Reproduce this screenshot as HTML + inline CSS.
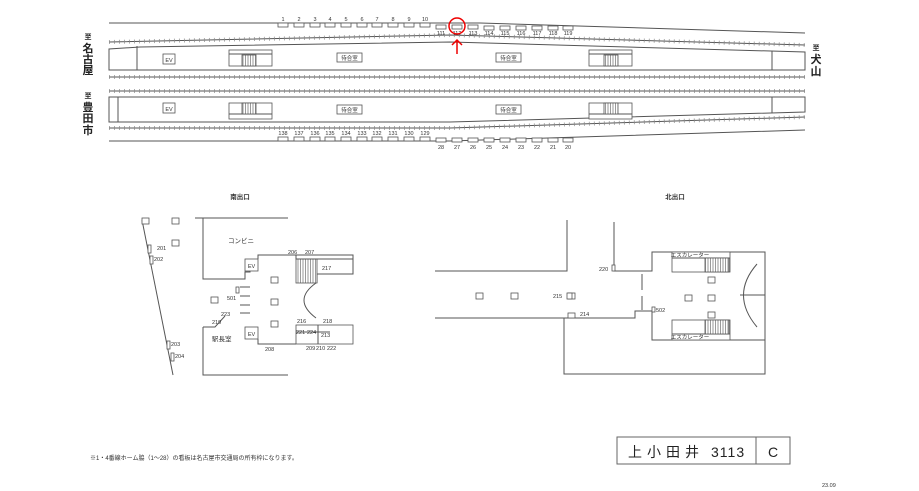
<!DOCTYPE html>
<html><head><meta charset="utf-8"><style>
html,body{margin:0;padding:0;background:#fff;}
svg{display:block;font-family:"Liberation Sans","Noto Sans CJK JP",sans-serif;}
.l{fill:none;stroke:#555;stroke-width:1}
.t{fill:none;stroke:#888;stroke-width:4;stroke-dasharray:0.7 4.3}
.b{fill:#fff;stroke:#555;stroke-width:0.8}
.h{fill:url(#hatch);stroke:#555;stroke-width:0.8}
.n{font-size:5.5px;fill:#333;text-anchor:middle}
.s{font-size:6.5px;fill:#333}
</style></head><body>
<svg width="919" height="491" viewBox="0 0 919 491" xmlns="http://www.w3.org/2000/svg">
<defs><pattern id="hatch" width="2.5" height="10" patternUnits="userSpaceOnUse"><rect width="2.5" height="10" fill="#fff"/><line x1="0.5" y1="0" x2="0.5" y2="10" stroke="#555" stroke-width="0.6"/></pattern></defs>
<!-- top platform area -->
<polyline class="l" points="109,23 480,23 805,33"/>
<polyline class="l" points="109,42 450,35 805,45"/>
<polyline class="t" points="109,42 450,35 805,45"/>
<polygon class="l" points="109,70 109,49 140,47 450,42 805,52 805,70"/>
<line class="l" x1="137" y1="46" x2="137" y2="70"/>
<line class="l" x1="772" y1="51" x2="772" y2="70"/>
<line class="l" x1="109" y1="77" x2="805" y2="77"/><line class="t" x1="109" y1="77" x2="805" y2="77"/>
<line class="l" x1="109" y1="91" x2="805" y2="91"/><line class="t" x1="109" y1="91" x2="805" y2="91"/>
<polygon class="l" points="109,97 805,97 805,112 450,122 109,122"/>
<line class="l" x1="118" y1="97" x2="118" y2="122"/>
<line class="l" x1="772" y1="97" x2="772" y2="113"/>
<polyline class="l" points="109,128 450,128 805,117"/><polyline class="t" points="109,128 450,128 805,117"/>
<polyline class="l" points="109,141 450,141 805,130"/>
<!-- platform icons -->
<rect class="b" x="163" y="54" width="12" height="10"/><text x="169" y="62" class="n" font-size="6">EV</text>
<rect class="b" x="163" y="103" width="12" height="10"/><text x="169" y="111" class="n" font-size="6">EV</text>
<rect class="b" x="229" y="50" width="43" height="16"/><line class="l" x1="229" y1="54" x2="272" y2="54"/><rect class="h" x="242" y="55" width="14" height="11"/>
<rect class="b" x="229" y="103" width="43" height="16"/><line class="l" x1="229" y1="114" x2="272" y2="114"/><rect class="h" x="242" y="103" width="14" height="11"/>
<rect class="b" x="589" y="50" width="43" height="16"/><line class="l" x1="589" y1="54" x2="632" y2="54"/><rect class="h" x="604" y="55" width="14" height="11"/>
<rect class="b" x="589" y="103" width="43" height="16"/><line class="l" x1="589" y1="114" x2="632" y2="114"/><rect class="h" x="604" y="103" width="14" height="11"/>
<rect class="b" x="337" y="53" width="25" height="9"/><text x="349.5" y="60" class="n">待合室</text>
<rect class="b" x="496" y="53" width="25" height="9"/><text x="508.5" y="60" class="n">待合室</text>
<rect class="b" x="337" y="105" width="25" height="9"/><text x="349.5" y="112" class="n">待合室</text>
<rect class="b" x="496" y="105" width="25" height="9"/><text x="508.5" y="112" class="n">待合室</text>
<!-- direction labels -->
<g font-size="11" font-weight="bold" fill="#222" text-anchor="middle">
<text x="88" y="39" font-size="7">至</text><text x="88" y="52">名</text><text x="88" y="63">古</text><text x="88" y="74">屋</text>
<text x="88" y="98" font-size="7">至</text><text x="88" y="111">豊</text><text x="88" y="122">田</text><text x="88" y="134">市</text>
<text x="816" y="50" font-size="7">至</text><text x="816" y="63">犬</text><text x="816" y="75">山</text>
</g>
<g>
<rect class="b" x="278" y="23" width="10" height="4"/><rect class="b" x="294" y="23" width="10" height="4"/><rect class="b" x="310" y="23" width="10" height="4"/><rect class="b" x="325" y="23" width="10" height="4"/><rect class="b" x="341" y="23" width="10" height="4"/><rect class="b" x="357" y="23" width="10" height="4"/><rect class="b" x="372" y="23" width="10" height="4"/><rect class="b" x="388" y="23" width="10" height="4"/><rect class="b" x="404" y="23" width="10" height="4"/><rect class="b" x="420" y="23" width="10" height="4"/>
<text class="n" x="283" y="21">1</text><text class="n" x="299" y="21">2</text><text class="n" x="315" y="21">3</text><text class="n" x="330" y="21">4</text><text class="n" x="346" y="21">5</text><text class="n" x="362" y="21">6</text><text class="n" x="377" y="21">7</text><text class="n" x="393" y="21">8</text><text class="n" x="409" y="21">9</text><text class="n" x="425" y="21">10</text>
<rect class="b" x="436" y="25" width="10" height="4"/><rect class="b" x="452" y="25" width="10" height="4"/><rect class="b" x="468" y="25" width="10" height="4"/><rect class="b" x="484" y="26" width="10" height="4"/><rect class="b" x="500" y="26" width="10" height="4"/><rect class="b" x="516" y="26" width="10" height="4"/><rect class="b" x="532" y="26" width="10" height="4"/><rect class="b" x="548" y="26" width="10" height="4"/><rect class="b" x="563" y="26" width="10" height="4"/>
<text class="n" x="441" y="35">111</text><text class="n" x="457" y="35">112</text><text class="n" x="473" y="35">113</text><text class="n" x="489" y="35">114</text><text class="n" x="505" y="35">115</text><text class="n" x="521" y="35">116</text><text class="n" x="537" y="35">117</text><text class="n" x="553" y="35">118</text><text class="n" x="568" y="35">119</text>
<circle cx="457" cy="26" r="8" fill="none" stroke="#e00" stroke-width="1.5"/>
<line x1="457" y1="54" x2="457" y2="40" stroke="#e00" stroke-width="1.5"/>
<polyline points="452,45 457,40 462,45" fill="none" stroke="#e00" stroke-width="1.5"/>
<rect class="b" x="278" y="137" width="10" height="4"/><rect class="b" x="294" y="137" width="10" height="4"/><rect class="b" x="310" y="137" width="10" height="4"/><rect class="b" x="325" y="137" width="10" height="4"/><rect class="b" x="341" y="137" width="10" height="4"/><rect class="b" x="357" y="137" width="10" height="4"/><rect class="b" x="372" y="137" width="10" height="4"/><rect class="b" x="388" y="137" width="10" height="4"/><rect class="b" x="404" y="137" width="10" height="4"/><rect class="b" x="420" y="137" width="10" height="4"/>
<text class="n" x="283" y="135">138</text><text class="n" x="299" y="135">137</text><text class="n" x="315" y="135">136</text><text class="n" x="330" y="135">135</text><text class="n" x="346" y="135">134</text><text class="n" x="362" y="135">133</text><text class="n" x="377" y="135">132</text><text class="n" x="393" y="135">131</text><text class="n" x="409" y="135">130</text><text class="n" x="425" y="135">129</text>
<rect class="b" x="436" y="138" width="10" height="4"/><rect class="b" x="452" y="138" width="10" height="4"/><rect class="b" x="468" y="138" width="10" height="4"/><rect class="b" x="484" y="138" width="10" height="4"/><rect class="b" x="500" y="138" width="10" height="4"/><rect class="b" x="516" y="138" width="10" height="4"/><rect class="b" x="532" y="138" width="10" height="4"/><rect class="b" x="548" y="138" width="10" height="4"/><rect class="b" x="563" y="138" width="10" height="4"/>
<text class="n" x="441" y="149">28</text><text class="n" x="457" y="149">27</text><text class="n" x="473" y="149">26</text><text class="n" x="489" y="149">25</text><text class="n" x="505" y="149">24</text><text class="n" x="521" y="149">23</text><text class="n" x="537" y="149">22</text><text class="n" x="553" y="149">21</text><text class="n" x="568" y="149">20</text>
</g>
<!-- South exit -->
<text x="240" y="199" class="s" text-anchor="middle" font-weight="bold">南出口</text>
<line class="l" x1="142" y1="220" x2="173" y2="375"/>
<rect class="b" x="142" y="218" width="7" height="6"/><rect class="b" x="172" y="218" width="7" height="6"/><rect class="b" x="172" y="240" width="7" height="6"/>
<rect class="b" x="148" y="245" width="3" height="8"/><text class="n" x="157" y="250" style="text-anchor:start">201</text>
<rect class="b" x="150" y="256" width="3" height="8"/><text class="n" x="154" y="261" style="text-anchor:start">202</text>
<rect class="b" x="167" y="341" width="3" height="8"/><text class="n" x="171" y="346" style="text-anchor:start">203</text>
<rect class="b" x="171" y="353" width="3" height="8"/><text class="n" x="175" y="358" style="text-anchor:start">204</text>
<polyline class="l" points="195,218 288,218"/>
<polyline class="l" points="203,218 203,279 245,279 245,272 250,272 250,264"/>
<rect class="b" x="245" y="259" width="13" height="12"/><text class="n" x="251.5" y="268" font-size="7">EV</text>
<rect class="b" x="245" y="327" width="13" height="12"/><text class="n" x="251.5" y="336" font-size="7">EV</text>
<polyline class="l" points="258,259 258,255 353,255 353,274 317,274 317,283"/>
<rect class="h" x="296" y="259" width="21" height="24"/>
<rect class="l" x="296" y="255" width="57" height="4"/>
<path class="l" d="M316,283 Q292,300 316,318"/>
<rect class="b" x="296" y="325" width="57" height="19"/>
<line class="l" x1="296" y1="332" x2="330" y2="332"/><line class="l" x1="318" y1="325" x2="318" y2="344"/>
<polyline class="l" points="258,339 258,344 296,344"/>
<polyline class="l" points="203,327 215,327 225,316"/>
<polyline class="l" points="203,327 203,375 288,375"/>
<rect class="b" x="271" y="277" width="7" height="6"/><rect class="b" x="271" y="299" width="7" height="6"/><rect class="b" x="271" y="321" width="7" height="6"/>
<rect class="b" x="211" y="297" width="7" height="6"/>
<line class="l" x1="240" y1="287" x2="250" y2="287"/><line class="l" x1="240" y1="296" x2="250" y2="296"/><line class="l" x1="240" y1="305" x2="250" y2="305"/><line class="l" x1="240" y1="313" x2="250" y2="313"/>
<rect class="b" x="236" y="287" width="3" height="6"/>
<text class="s" x="228" y="243" font-size="8">コンビニ</text>
<text class="s" x="212" y="341" font-size="8">駅長室</text>
<text x="227" y="300" class="n" style="text-anchor:start">501</text>
<text x="288" y="254" class="n" style="text-anchor:start">206</text>
<text x="305" y="254" class="n" style="text-anchor:start">207</text>
<text x="322" y="270" class="n" style="text-anchor:start">217</text>
<text x="297" y="323" class="n" style="text-anchor:start">216</text>
<text x="323" y="323" class="n" style="text-anchor:start">218</text>
<text x="212" y="324" class="n" style="text-anchor:start">219</text>
<text x="221" y="316" class="n" style="text-anchor:start">223</text>
<text x="265" y="351" class="n" style="text-anchor:start">208</text>
<text x="296" y="334" class="n" style="text-anchor:start">221</text>
<text x="307" y="334" class="n" style="text-anchor:start">224</text>
<text x="321" y="337" class="n" style="text-anchor:start">213</text>
<text x="306" y="350" class="n" style="text-anchor:start">209</text>
<text x="316" y="350" class="n" style="text-anchor:start">210</text>
<text x="327" y="350" class="n" style="text-anchor:start">222</text>
<!-- North exit -->
<text x="675" y="199" class="s" text-anchor="middle" font-weight="bold">北出口</text>
<polyline class="l" points="567,220 567,271 435,271"/>
<polyline class="l" points="614,222 614,271 652,271 652,252 765,252 765,374 564,374 564,318 435,318"/>
<polyline class="l" points="564,318 635,318 635,311 652,311 652,340 765,340"/>
<rect class="b" x="672" y="252" width="58" height="20"/><line class="l" x1="672" y1="258" x2="730" y2="258"/><rect class="h" x="705" y="258" width="24" height="14"/>
<rect class="b" x="672" y="320" width="58" height="20"/><line class="l" x1="672" y1="334" x2="730" y2="334"/><rect class="h" x="705" y="320" width="24" height="14"/>
<text class="n" x="690" y="257" font-size="5">エスカレーター</text>
<text class="n" x="690" y="339" font-size="5">エスカレーター</text>
<path class="l" d="M757,264 Q730,295 757,327"/>
<line class="l" x1="740" y1="295" x2="765" y2="295"/>
<rect class="b" x="476" y="293" width="7" height="6"/><rect class="b" x="511" y="293" width="7" height="6"/><rect class="b" x="568" y="293" width="7" height="6"/><rect class="b" x="685" y="295" width="7" height="6"/>
<rect class="b" x="708" y="277" width="7" height="6"/><rect class="b" x="708" y="295" width="7" height="6"/><rect class="b" x="708" y="312" width="7" height="6"/>
<rect class="b" x="567" y="293" width="5" height="6"/>
<rect class="b" x="568" y="313" width="7" height="5"/>
<rect class="b" x="612" y="265" width="3" height="6"/>
<line class="l" x1="642" y1="274" x2="642" y2="290"/><line class="l" x1="642" y1="296" x2="642" y2="310"/>
<rect class="b" x="652" y="307" width="3" height="5"/>
<text class="n" x="599" y="271" style="text-anchor:start">220</text>
<text class="n" x="553" y="298" style="text-anchor:start">215</text>
<text class="n" x="580" y="316" style="text-anchor:start">214</text>
<text class="n" x="656" y="312" style="text-anchor:start">502</text>
<!-- footer -->
<text x="90" y="460" font-size="6" fill="#333">※1・4番線ホーム脇（1～28）の看板は名古屋市交通局の所有枠になります。</text>
<rect x="617" y="437" width="173" height="27" fill="#fff" stroke="#666" stroke-width="1"/>
<line x1="756" y1="437" x2="756" y2="464" stroke="#666" stroke-width="1"/>
<text x="628" y="457" font-size="14" fill="#222" letter-spacing="5">上小田井</text>
<text x="711" y="457" font-size="14" fill="#222" letter-spacing="1">3113</text>
<text x="773" y="457" font-size="14" fill="#222" text-anchor="middle">C</text>
<text x="822" y="487" font-size="5.5" fill="#333">23.09</text>
</svg>
</body></html>
